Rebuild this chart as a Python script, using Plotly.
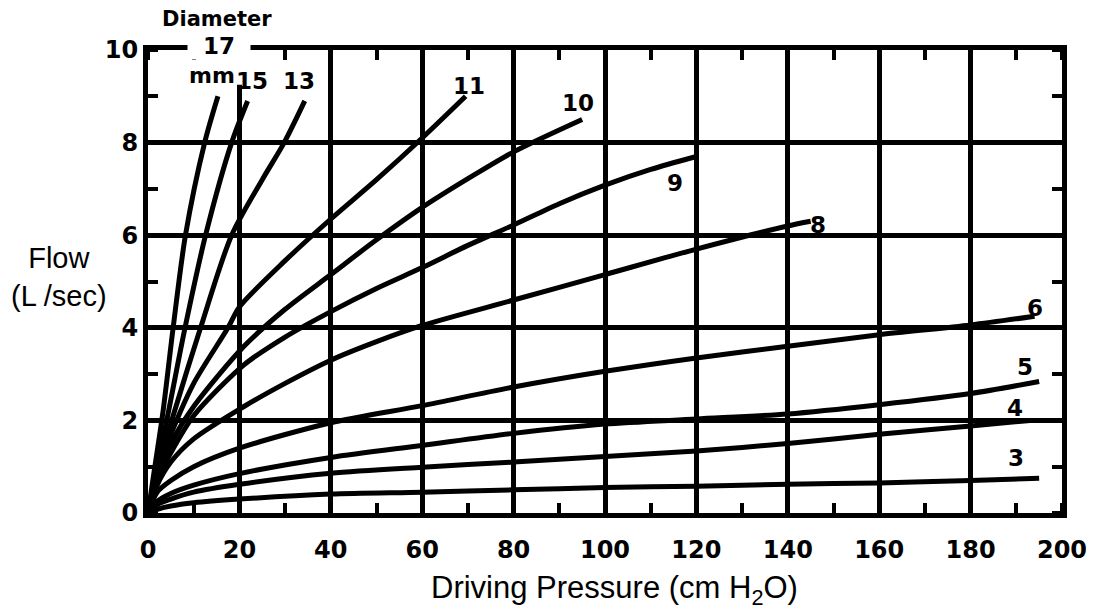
import plotly.graph_objects as go

# ---- data ----
d17_x = [0, 1.5, 3.3, 5.5, 8.2, 12.4, 15.3]
d17_y = [0, 1.0, 2.2, 4.0, 6.0, 8.0, 9.0]

d15_x = [0, 2.0, 4.5, 8.1, 12.6, 18.3, 21.8]
d15_y = [0, 1.0, 2.2, 4.0, 6.0, 8.0, 8.9]

d13_x = [0, 2.0, 5.5, 11.5, 18.3, 25.0, 29.8, 34.3]
d13_y = [0, 0.9, 2.1, 4.0, 6.0, 7.2, 8.0, 8.9]

d11_x = [0, 2, 5, 10, 17.5, 20, 30, 40, 50, 60, 69.5]
d11_y = [0, 0.9, 1.7, 2.8, 4.0, 4.45, 5.45, 6.35, 7.2, 8.1, 9.0]

d10_x = [0, 2, 5, 10, 21, 30, 40, 50, 60, 70, 80, 95]
d10_y = [0, 0.8, 1.5, 2.3, 3.6, 4.4, 5.15, 5.9, 6.6, 7.22, 7.8, 8.5]

d9_x = [0, 2, 5, 10, 21, 30, 40, 50, 60, 70, 80, 90, 100, 110, 120]
d9_y = [0, 0.7, 1.3, 2.1, 3.2, 3.8, 4.35, 4.85, 5.3, 5.78, 6.22, 6.68, 7.08, 7.42, 7.7]

d8_x = [0, 2, 5, 10, 21, 30, 40, 50, 60, 80, 100, 120, 140, 145]
d8_y = [0, 0.6, 1.1, 1.6, 2.3, 2.8, 3.3, 3.7, 4.05, 4.6, 5.15, 5.7, 6.2, 6.3]

d6_x = [0, 2, 5, 10, 20, 40, 60, 80, 100, 120, 140, 160, 180, 194]
d6_y = [0, 0.45, 0.7, 1.0, 1.4, 1.95, 2.32, 2.72, 3.06, 3.35, 3.6, 3.85, 4.06, 4.25]

d5_x = [0, 2, 5, 10, 20, 40, 60, 80, 100, 120, 140, 160, 180, 195]
d5_y = [0, 0.25, 0.42, 0.6, 0.85, 1.2, 1.46, 1.72, 1.92, 2.03, 2.14, 2.34, 2.58, 2.84]

d4_x = [0, 2, 5, 10, 20, 40, 60, 80, 100, 120, 140, 160, 180, 193]
d4_y = [0, 0.18, 0.3, 0.45, 0.62, 0.86, 0.99, 1.1, 1.22, 1.34, 1.5, 1.7, 1.88, 2.0]

d3_x = [0, 2, 5, 10, 20, 40, 60, 80, 100, 120, 140, 160, 180, 195]
d3_y = [0, 0.08, 0.15, 0.22, 0.3, 0.41, 0.45, 0.5, 0.55, 0.58, 0.62, 0.65, 0.7, 0.75]

series = [
    ("17", d17_x, d17_y), ("15", d15_x, d15_y), ("13", d13_x, d13_y),
    ("11", d11_x, d11_y), ("10", d10_x, d10_y), ("9", d9_x, d9_y),
    ("8", d8_x, d8_y), ("6", d6_x, d6_y), ("5", d5_x, d5_y),
    ("4", d4_x, d4_y), ("3", d3_x, d3_y),
]

x_ticks = [0, 20, 40, 60, 80, 100, 120, 140, 160, 180, 200]
y_ticks = [0, 2, 4, 6, 8, 10]

# label text and placement (layout only)
labels = [
    ("15", 22.8, 9.33), ("13", 33.0, 9.33), ("11", 70.2, 9.22),
    ("10", 94.1, 8.86), ("9", 115.3, 7.13), ("8", 146.6, 6.22),
    ("6", 194.1, 4.43), ("5", 191.9, 3.15), ("4", 189.7, 2.27), ("3", 190.0, 1.19),
]

BOLD = "DejaVu Sans"

fig = go.Figure()
for name, xs, ys in series:
    fig.add_trace(go.Scatter(
        x=xs, y=ys, mode="lines", name=name,
        line=dict(color="black", width=5, shape="spline", smoothing=0.8),
        showlegend=False, hoverinfo="skip",
    ))

for txt, lx, ly in labels:
    fig.add_annotation(x=lx, y=ly, xref="x", yref="y", text=f"<b>{txt}</b>",
                       showarrow=False, xanchor="center", yanchor="middle",
                       font=dict(family=BOLD, size=23, color="black"))

# "17" sitting in a gap of the top frame
fig.add_annotation(x=0.0777, y=1.008, xref="paper", yref="paper", text="<b>17</b>",
                   showarrow=False, bgcolor="white", borderpad=0, width=62,
                   xanchor="center", yanchor="middle",
                   font=dict(family=BOLD, size=23, color="black"))
fig.add_annotation(x=14.0, y=9.46, xref="x", yref="y", text="<b>mm</b>",
                   showarrow=False, xanchor="center", yanchor="middle",
                   font=dict(family=BOLD, size=22, color="black"))
fig.add_annotation(x=0.075, y=1.067, xref="paper", yref="paper", text="<b>Diameter</b>",
                   showarrow=False, xanchor="center", yanchor="middle",
                   font=dict(family=BOLD, size=21, color="black"))

# axis titles
fig.add_annotation(x=-0.097, y=0.51, xref="paper", yref="paper",
                   text="Flow<br>(L /sec)", showarrow=False, align="center",
                   xanchor="center", yanchor="middle",
                   font=dict(family="Liberation Sans", size=29, color="black"))
fig.add_annotation(x=0.51, y=-0.166, xref="paper", yref="paper",
                   text="Driving Pressure (cm H<sub>2</sub>O)", showarrow=False,
                   xanchor="center", yanchor="middle",
                   font=dict(family="Liberation Sans", size=31, color="black"))

# white patch where the x=20 grid line stops short of the top frame
fig.add_shape(type="rect", xref="x", yref="y", x0=18.6, x1=21.0, y0=9.25, y1=9.93,
              fillcolor="white", line=dict(width=0), layer="above")

fig.update_xaxes(
    range=[0, 200], tickvals=x_ticks, ticktext=[f"<b>{v}</b>" for v in x_ticks],
    showgrid=True, gridcolor="black", gridwidth=4.5, zeroline=False,
    showline=True, linecolor="black", linewidth=5, mirror="allticks",
    ticks="", ticklabelstandoff=11,
    tickfont=dict(family=BOLD, size=24, color="black"),
    minor=dict(dtick=10, tick0=0, ticks="inside", ticklen=10, tickwidth=4,
               tickcolor="black", showgrid=False),
)
fig.update_yaxes(
    range=[0, 10], tickvals=y_ticks, ticktext=[f"<b>{v}</b>" for v in y_ticks],
    showgrid=True, gridcolor="black", gridwidth=4.5, zeroline=False,
    showline=True, linecolor="black", linewidth=5, mirror="allticks",
    ticks="", ticklabelstandoff=0,
    tickfont=dict(family=BOLD, size=24, color="black"),
    minor=dict(dtick=1, tick0=0, ticks="inside", ticklen=10, tickwidth=4,
               tickcolor="black", showgrid=False),
)

fig.update_layout(
    width=1098, height=614,
    margin=dict(l=148, r=36, t=50, b=101),
    paper_bgcolor="white", plot_bgcolor="white",
)

fig.write_html("out.html")
